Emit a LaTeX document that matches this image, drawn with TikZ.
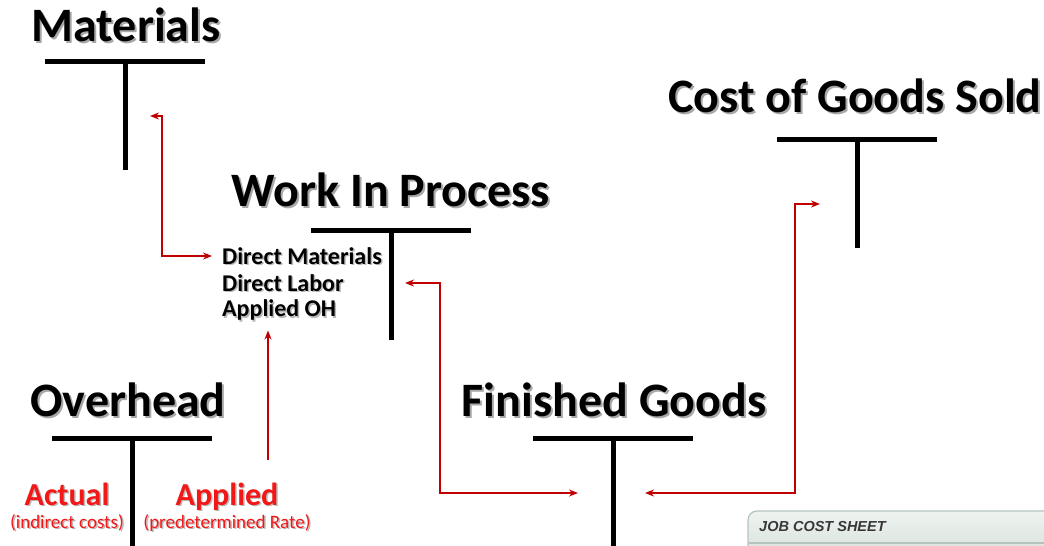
\documentclass[tikz,border=0pt]{standalone}
\usepackage{fontspec}
\setmainfont{Carlito}
\newfontfamily\arial{Liberation Sans}
\usetikzlibrary{arrows.meta,positioning}
\definecolor{rouge}{HTML}{C00000}
\definecolor{rougevif}{HTML}{F21818}
\definecolor{ombre}{HTML}{A8A8A8}
\definecolor{vertgris}{HTML}{B4C4BC}
\definecolor{vertclair}{HTML}{EEF3F0}
\definecolor{vertfonce}{HTML}{C8D5CE}
\tikzset{
  titre/.style={font=\fontsize{48}{52}\selectfont\bfseries,inner sep=0pt},
  poste/.style={font=\fontsize{24}{27}\selectfont\bfseries,inner sep=0pt,anchor=west},
  etiq/.style={font=\fontsize{32}{36}\selectfont\bfseries,inner sep=0pt,text=rougevif,anchor=base},
  note/.style={font=\fontsize{19}{22}\selectfont,inner sep=0pt,text=rougevif,anchor=base},
  barre/.style={line width=5pt,black},
  fleche/.style={{Stealth[length=9pt,width=7pt]}-{Stealth[length=9pt,width=7pt]},line width=2pt,color=rouge},
  fleche1/.style={-{Stealth[length=9pt,width=7pt]},line width=2pt,color=rouge},
}

\begin{document}
\begin{tikzpicture}[x=1pt,y=-1pt]
  \useasboundingbox (0,0) rectangle (1044,546);
  % comptes en T : titres
  \foreach \nom/\px/\py/\txt in {mat/126/25/Materials,wip/391/190/Work In Process,cogs/855/96/Cost of Goods Sold,oh/128/400/Overhead,fg/614/400/Finished Goods}{
    \node[titre,text=ombre] at (\px+2,\py+2) {\txt};
    \node[titre] (\nom) at (\px,\py) {\txt};
  }
  % barres des T
  \foreach \cx/\haut/\bas in {125/61/170,391/230/340,857/139/248,132/438/560,613/438/560}{
    \draw[barre] (\cx-80,\haut) -- (\cx+80,\haut);
    \draw[barre] (\cx,\haut) -- (\cx,\bas);
  }
  % postes du WIP
  \foreach \nom/\py/\txt in {dm/256/Direct Materials,dl/283/Direct Labor,aoh/310/Applied OH}{
    \node[poste,text=ombre!80] at (223.5,\py+1.5) {\txt};
    \node[poste] (\nom) at (222,\py) {\txt};
  }
  % debit / credit des frais generaux
  \foreach \nom/\st/\px/\py/\txt in {act/etiq/67/505/Actual,actn/note/67/528/(indirect costs),app/etiq/227/505/Applied,appn/note/227/528/(predetermined Rate)}{
    \node[\st,text=ombre!80] at (\px+1.5,\py+1.5) {\txt};
    \node[\st] (\nom) at (\px,\py) {\txt};
  }
  % fleches
  \coordinate (matD) at (150,116);
  \coordinate (appD) at (268,460);
  \coordinate (wipD) at (405,283);
  \coordinate (fgG) at (578,493);
  \coordinate (fgD) at (645,493);
  \coordinate (cogsG) at (820,204);
  \draw[fleche,shorten >=10pt] (matD) -- ++(12,0) |- (dm.west);
  \draw[fleche1,shorten >=10pt] (appD) -- (appD |- aoh.south);
  \draw[fleche] (wipD) -- ++(35,0) |- (fgG);
  \draw[fleche] (fgD) -- ++(150,0) |- (cogsG);
  % fiche de cout
  \begin{scope}
    \clip (0,0) rectangle (1044,546);
    \shadedraw[top color=vertclair,bottom color=vertfonce,draw=vertgris,line width=1.2pt,rounded corners=9pt] (748,511) rectangle (1070,590);
    \draw[vertgris,line width=1.2pt] (749,543) -- (1044,543);
    \node[font=\arial\bfseries\itshape\fontsize{14.5}{17}\selectfont,anchor=west,text=black!78,inner sep=0pt] (jcs) at (759,527) {JOB COST SHEET};
  \end{scope}
\end{tikzpicture}
\end{document}
